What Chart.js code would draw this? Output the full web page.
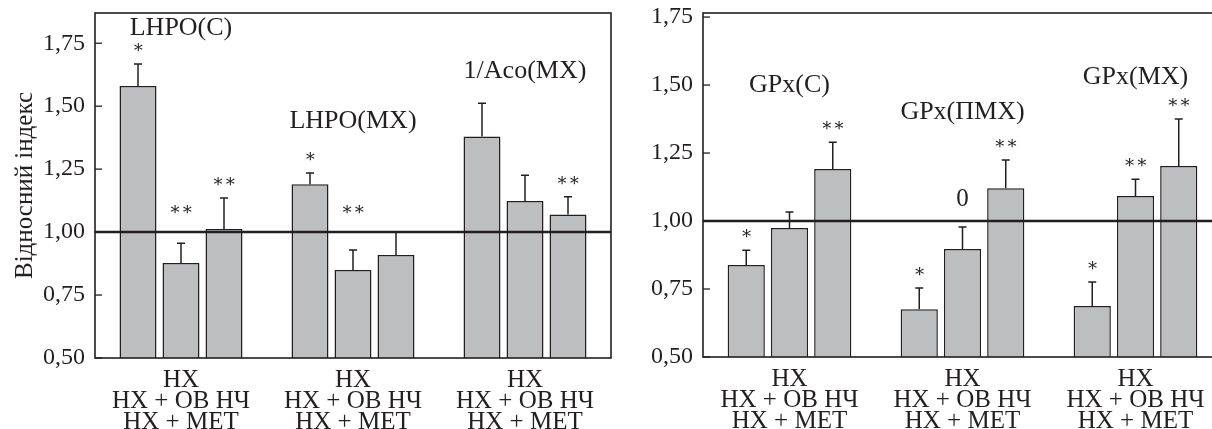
<!DOCTYPE html>
<html>
<head>
<meta charset="utf-8">
<script src="https://cdn.jsdelivr.net/npm/chart.js@4.4.1/dist/chart.umd.min.js"></script>
<style>
  html, body { margin: 0; padding: 0; background: #fff; overflow: hidden; }
  body { width: 1212px; height: 429px; position: relative; }
  .panel { position: absolute; top: 0; height: 429px; }
  #leftPanel { left: 0; width: 620px; }
  #rightPanel { left: 620px; width: 602px; }
</style>
</head>
<body>
<div class="panel" id="leftPanel"><canvas id="leftChart"></canvas></div>
<div class="panel" id="rightPanel"><canvas id="rightChart"></canvas></div>
<script>
/* Relative index of LHPO / aconitase / GPx, two panels of grouped bars */

const seriesNames = ['НХ', 'НХ + ОВ НЧ', 'НХ + МЕТ'];
const yTickValues = [0.5, 0.75, 1.0, 1.25, 1.5, 1.75];

// left panel
const leftGroups = ['LHPO(C)', 'LHPO(MX)', '1/Aco(MX)'];
const leftHX = [1.58, 1.19, 1.38];
const leftOV = [0.877, 0.849, 1.123];
const leftMET = [1.012, 0.909, 1.07];
const leftErrHX = [0.087, 0.045, 0.132];
const leftErrOV = [0.079, 0.080, 0.103];
const leftErrMET = [0.123, 0.091, 0.070];
const leftSigHX = ['*', '*', ''];
const leftSigOV = ['**', '**', ''];
const leftSigMET = ['**', '', '**'];
const leftNameAt = [1.81, 1.44, 1.64]; // value level of group captions

// right panel
const rightGroups = ['GPx(C)', 'GPx(ПМХ)', 'GPx(MX)'];
const rightHX = [0.838, 0.676, 0.688];
const rightOV = [0.974, 0.897, 1.092];
const rightMET = [1.191, 1.121, 1.202];
const rightErrHX = [0.055, 0.078, 0.088];
const rightErrOV = [0.059, 0.081, 0.062];
const rightErrMET = [0.099, 0.103, 0.173];
const rightSigHX = ['*', '*', '*'];
const rightSigOV = ['', '0', '**'];
const rightSigMET = ['**', '**', '**'];
const rightNameAt = [1.50, 1.40, 1.53];

const INK = '#231f20';
const BAR = '#bcbec0';
const SERIF = '"Liberation Serif", "DejaVu Serif", serif';

// error bars, reference line at 1.00, frame, inward ticks, stars, group captions
const decorPlugin = {
  id: 'decor',
  afterDatasetsDraw(chart, args, opts) {
    const ctx = chart.ctx;
    const area = chart.chartArea;
    const x = chart.scales.x;
    const y = chart.scales.y;
    const line = y.getPixelForValue(1);
    ctx.save();
    ctx.strokeStyle = INK;
    ctx.fillStyle = INK;

    const starPos = [];
    chart.data.datasets.forEach((ds, i) => {
      const meta = chart.getDatasetMeta(i);
      meta.data.forEach((bar, j) => {
        const top = y.getPixelForValue(ds.data[j] + opts.errs[i][j]);
        ctx.lineWidth = 1.5;
        ctx.beginPath();
        ctx.moveTo(bar.x, bar.y);
        ctx.lineTo(bar.x, top);
        ctx.moveTo(bar.x - 4, top);
        ctx.lineTo(bar.x + 4, top);
        ctx.stroke();
        let sy = top - 16;
        if (sy > line - 25 && sy < line + 8) sy = line - 22;
        starPos.push([opts.sigs[i][j], bar.x, sy]);
      });
    });

    // reference line
    ctx.lineWidth = 2.5;
    ctx.beginPath();
    ctx.moveTo(area.left, line);
    ctx.lineTo(area.right, line);
    ctx.stroke();

    // frame
    ctx.lineWidth = 1.6;
    ctx.strokeRect(area.left, area.top, area.right - area.left, area.bottom - area.top);

    // inward tick marks
    ctx.lineWidth = 1.3;
    y.ticks.forEach(t => {
      const py = y.getPixelForValue(t.value);
      ctx.beginPath();
      ctx.moveTo(area.left, py);
      ctx.lineTo(area.left + 7, py);
      ctx.stroke();
    });

    ctx.textAlign = 'center';
    ctx.textBaseline = 'middle';
    starPos.forEach(([s, sx, sy]) => {
      if (!s) return;
      if (s === '0') {
        ctx.font = '25px ' + SERIF;
        ctx.fillText(s, sx, sy);
      } else {
        ctx.font = '18px "DejaVu Serif", serif';
        ctx.fillText(s.replace(/\*/g, '∗'), sx, sy);
      }
    });

    ctx.font = '26px ' + SERIF;
    opts.names.forEach((n, j) => {
      ctx.fillText(n, x.getPixelForValue(j), y.getPixelForValue(opts.nameAt[j]));
    });
    ctx.restore();
  }
};

function buildChart(id, groups, vals, errs, sigs, nameAt, opt) {
  const fmt = v => v.toFixed(2).replace('.', ',');
  return new Chart(document.getElementById(id), {
    type: 'bar',
    data: {
      labels: groups.map(() => seriesNames),
      datasets: vals.map((d, i) => ({
        label: seriesNames[i],
        data: d,
        backgroundColor: BAR,
        borderColor: INK,
        borderWidth: 1.5,
        borderSkipped: 'bottom',
        categoryPercentage: 0.75,
        barPercentage: 0.86
      }))
    },
    options: {
      responsive: true,
      maintainAspectRatio: false,
      animation: false,
      events: [],
      layout: { padding: { top: 13, right: opt.padRight, left: 0, bottom: 0 } },
      plugins: {
        legend: { display: false },
        tooltip: { enabled: false },
        decor: { names: groups, nameAt: nameAt, errs: errs, sigs: sigs }
      },
      scales: {
        x: {
          grid: { display: false, drawTicks: false },
          border: { display: false },
          ticks: {
            color: INK,
            padding: 12,
            maxRotation: 0,
            autoSkip: false,
            font: { family: SERIF, size: 25, lineHeight: '21px' }
          },
          afterFit(scale) {
            scale.height = opt.xHeight;
            scale.paddingLeft = 0;
            scale.paddingRight = 0;
          }
        },
        y: {
          min: 0.5,
          max: opt.yMax,
          grid: { display: false, drawTicks: false },
          border: { display: false },
          afterBuildTicks(scale) { scale.ticks = yTickValues.map(v => ({ value: v })); },
          ticks: {
            color: INK,
            padding: 10,
            font: { family: SERIF, size: 24 },
            callback: v => fmt(v)
          },
          title: {
            display: !!opt.yTitle,
            text: opt.yTitle || '',
            color: INK,
            padding: { top: 10, bottom: 0 },
            font: { family: SERIF, size: 25 }
          },
          afterFit(scale) {
            scale.width = opt.yWidth;
            // keep the plot top where the layout padding puts it
            scale.paddingTop = 0;
            scale.paddingBottom = 0;
          }
        }
      }
    },
    plugins: [decorPlugin]
  });
}

buildChart('leftChart', leftGroups,
  [leftHX, leftOV, leftMET],
  [leftErrHX, leftErrOV, leftErrMET],
  [leftSigHX, leftSigOV, leftSigMET],
  leftNameAt,
  { yMax: 1.87, yWidth: 95, xHeight: 71, padRight: 9, yTitle: 'Відносний індекс' });

buildChart('rightChart', rightGroups,
  [rightHX, rightOV, rightMET],
  [rightErrHX, rightErrOV, rightErrMET],
  [rightSigHX, rightSigOV, rightSigMET],
  rightNameAt,
  { yMax: 1.765, yWidth: 83, xHeight: 72, padRight: 0 });
</script>
</body>
</html>
